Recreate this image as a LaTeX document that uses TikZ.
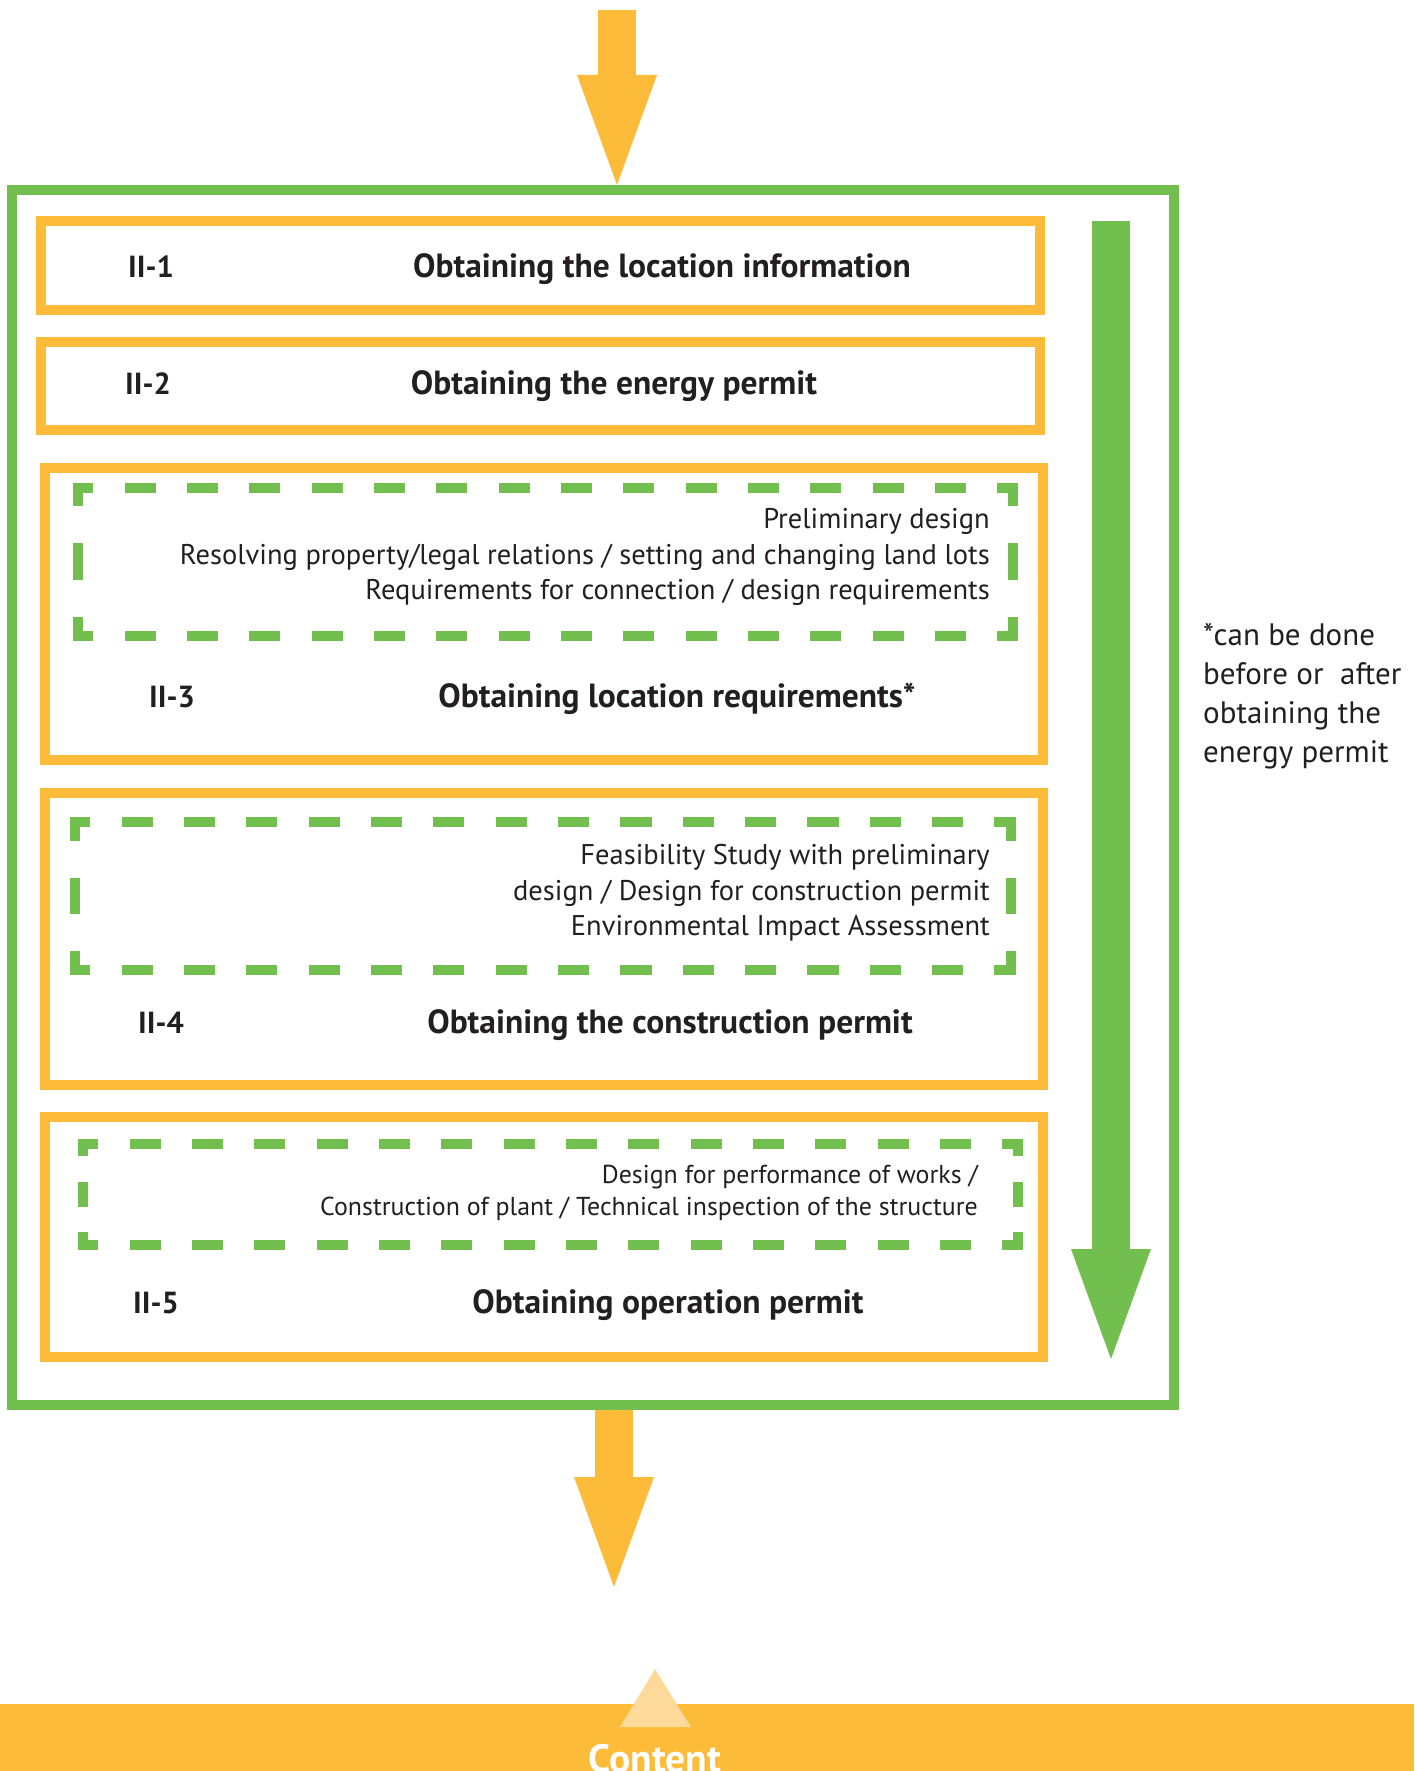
\documentclass[tikz,border=0pt]{standalone}
\usepackage{fontspec}
\setmainfont{PT Sans}
\usetikzlibrary{arrows.meta}

\begin{document}
\begin{tikzpicture}[x=1pt, y=-1pt,
  % ---- colours ---------------------------------------------------------
  /utils/exec={%
    \definecolor{figorange}{RGB}{252,187, 57}%
    \definecolor{figgreen} {RGB}{114,191, 79}%
    \definecolor{figlight} {RGB}{253,217,154}%
    \definecolor{figink}   {RGB}{ 35, 31, 32}%
  },
  % ---- boxes -----------------------------------------------------------
  obox/.style={draw=figorange, line width=10pt, inner sep=0pt, outer sep=0pt},
  gframe/.style={draw=figgreen, line width=10pt, inner sep=0pt},
  dside/.style n args={3}{draw=figgreen, line width=10pt, line cap=rect,
    dash pattern=on #1pt off #2pt, dash phase=#3pt},
  % ---- texts -----------------------------------------------------------
  ttl/.style={font=\fontsize{33.5}{40}\selectfont\bfseries, text=figink, inner sep=0pt, anchor=base},
  lbl/.style={ttl, font=\fontsize{30.5}{36}\selectfont\bfseries, anchor=base west},
  body/.style={font=\fontsize{28.5}{35.6}\selectfont, text=figink, align=right, inner sep=0pt, anchor=east},
  note/.style={font=\fontsize{31}{38.8}\selectfont, text=figink, align=left, inner sep=0pt, anchor=west},
  % ---- block arrows ----------------------------------------------------
  bigflow/.style={draw=#1, line width=38pt,
    -{Triangle[length=110pt, width=80pt, line width=0pt]}},
]
\useasboundingbox (0,0) rectangle (1414,1771);

% =====================================================================
%  FRAME
% =====================================================================
\node[gframe, minimum width=1162pt, minimum height=1215pt] (frame) at (593,797.5) {};

% =====================================================================
%  STEPS II-1 and II-2
% =====================================================================
\node[obox, minimum width=999pt, minimum height=88.5pt] (s1) at (540.5,265.25) {};
\node[lbl] (l1) at (128,277) {II-1};
\node[ttl] (t1) at (662,277) {Obtaining the location information};

\node[obox, minimum width=999pt, minimum height=88pt] (s2) at (540.5,386) {};
\node[lbl] (l2) at (125,394.5) {II-2};
\node[ttl] (t2) at (614,394.5) {Obtaining the energy permit};

% =====================================================================
%  STEP II-3
% =====================================================================
\node[obox, minimum width=998pt, minimum height=291.6pt] (s3) at (544,613.8) {};
\node[minimum width=935pt, minimum height=148pt, inner sep=0pt] (d3) at (545.5,562) {};
\draw[dside={21.17}{41.17}{10.58}] (d3.north west) -- (d3.north east) (d3.south west) -- (d3.south east);
\draw[dside={27}{47}{13.5}] (d3.north west) -- (d3.south west) (d3.north east) -- (d3.south east);
\node[body] (n3) at (990,557) {Preliminary design\\
  Resolving property/legal relations / setting and changing land lots\\
  Requirements for connection / design requirements};
\node[lbl] (l3) at (149,707.5) {II-3};
\node[ttl] (t3) at (677,707.5) {Obtaining location requirements*};

% =====================================================================
%  STEP II-4
% =====================================================================
\node[obox, minimum width=998pt, minimum height=291.6pt] (s4) at (544,939.1) {};
\node[minimum width=935.3pt, minimum height=147.7pt, inner sep=0pt] (d4) at (542.7,896.2) {};
\draw[dside={21.17}{41.17}{10.58}] (d4.north west) -- (d4.north east) (d4.south west) -- (d4.south east);
\draw[dside={26.9}{46.9}{13.45}] (d4.north west) -- (d4.south west) (d4.north east) -- (d4.south east);
\node[body] (n4) at (990,892.7) {Feasibility Study with preliminary\\
  design / Design for construction permit\\
  Environmental Impact Assessment};
\node[lbl] (l4) at (138,1033.5) {II-4};
\node[ttl] (t4) at (670,1033.5) {Obtaining the construction permit};

% =====================================================================
%  STEP II-5
% =====================================================================
\node[obox, minimum width=998pt, minimum height=240pt] (s5) at (544,1237) {};
\node[minimum width=935pt, minimum height=101pt, inner sep=0pt] (d5) at (550.5,1194.5) {};
\draw[dside={21.17}{41.17}{10.58}] (d5.north west) -- (d5.north east) (d5.south west) -- (d5.south east);
\draw[dside={15.25}{35.25}{7.6}] (d5.north west) -- (d5.south west) (d5.north east) -- (d5.south east);
\node[body, font=\fontsize{25.9}{31.6}\selectfont] (n5) at (978,1192.9) {Design for performance of works /\\
  Construction of plant / Technical inspection of the structure};
\node[lbl] (l5) at (133,1313.5) {II-5};
\node[ttl] (t5) at (668,1313.5) {Obtaining operation permit};

% side note
\node[note] (remark) at (1203,696) {*can be done\\before or~ after\\obtaining the\\energy permit};

% =====================================================================
%  FLOW
% =====================================================================
\coordinate (src)  at (617,10);
\coordinate (sink) at (614,1587);
\coordinate (gtop) at (1111,221);
\coordinate (gend) at (1111,1359);
\draw[bigflow=figorange] (src) -- (frame.north -| src);
\draw[bigflow=figorange] (frame.south -| sink) -- (sink);
\draw[bigflow=figgreen] (gtop) -- (gend);

% =====================================================================
%  BOTTOM BANNER
% =====================================================================
\fill[figorange] (0,1704) rectangle (1414,1790);
\fill[figlight] (620,1727) -- (655,1669) -- (691,1727) -- cycle;
\node[font=\fontsize{39.5}{46}\selectfont\bfseries, text=white, inner sep=0pt, anchor=base] (banner) at (655,1772) {Content};

\end{tikzpicture}
\end{document}
